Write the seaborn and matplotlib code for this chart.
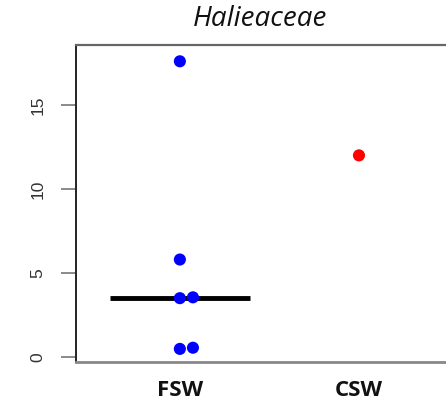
import numpy as np
import pandas as pd
import matplotlib
matplotlib.use("Agg")
import matplotlib.pyplot as plt
import seaborn as sns

# values
groups = ["FSW", "CSW"]
fsw_values = [17.6, 5.8, 3.5, 3.55, 0.48, 0.55]
csw_values = [12.0]
y_ticks = [0, 5, 10, 15]
group_colors = {"FSW": "#0000FF", "CSW": "#FF0000"}
title = "Halieaceae"

df = pd.DataFrame({
    "group": ["FSW"] * len(fsw_values) + ["CSW"] * len(csw_values),
    "value": fsw_values + csw_values,
})


def side_by_side(values, tol=0.4):
    """Stack near-equal values side by side (0 = centre, 1 = right of it)."""
    slots = np.zeros(len(values), dtype=int)
    order = np.argsort(values)
    last = None
    for i in order:
        if last is not None and slots[last] == 0 and abs(values[i] - values[last]) < tol:
            slots[i] = 1
        last = i
    return slots


step = 0.073  # one marker width in x units
df["slot"] = np.concatenate([side_by_side(np.array(fsw_values)),
                             side_by_side(np.array(csw_values))])
df["xpos"] = df["group"].map({g: i for i, g in enumerate(groups)}) + df["slot"] * step

sns.set_style("white")

fig = plt.figure(figsize=(4.46, 4.09), dpi=100)
ax = fig.add_axes([76 / 446, 47 / 409, 370 / 446, 317 / 409])

sns.scatterplot(
    data=df, x="xpos", y="value", hue="group", palette=group_colors,
    s=76, linewidth=0, legend=False, ax=ax, zorder=3,
)

# median bar for the FSW group
med = np.median(fsw_values)
ax.hlines(med, -0.39, 0.39, color="black", lw=3.5, zorder=2)

ax.set_xlim(-0.58, 1.486)
ax.set_ylim(-0.3, 18.57)
ax.set_xticks(range(len(groups)))
ax.set_xticklabels(groups, fontweight="bold", fontsize=16,
                   family="Open Sans", color="#111111")
ax.set_yticks(y_ticks)
ax.set_yticklabels([str(t) for t in y_ticks], rotation=90, va="center",
                   fontsize=12.5, color="#333333", family="Liberation Sans")
ax.tick_params(axis="y", length=11, width=1.2, color="#777777", pad=11, left=True)
ax.tick_params(axis="x", length=0, pad=13)
ax.set_xlabel("")
ax.set_ylabel("")

ax.spines["right"].set_visible(False)
ax.spines["left"].set_color("#222222")
ax.spines["left"].set_linewidth(1.4)
ax.spines["top"].set_color("#666666")
ax.spines["top"].set_linewidth(1.6)
ax.spines["bottom"].set_color("#888888")
ax.spines["bottom"].set_linewidth(2)

fig.text(260 / 446, 1 - 19 / 409, title, ha="center", va="center",
         fontsize=20, style="italic", family="Open Sans", color="#111111")

fig.savefig("out.png", dpi=100)
